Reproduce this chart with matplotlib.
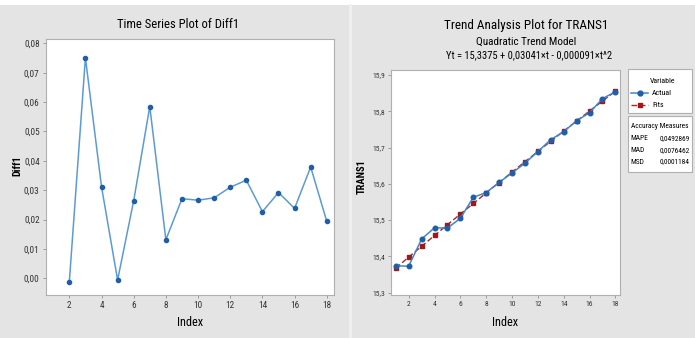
import matplotlib.pyplot as plt
from matplotlib import font_manager
from matplotlib.patches import Rectangle
from matplotlib.lines import Line2D

# data
diff_index = list(range(2, 19))
diff1 = [-0.0012, 0.0751, 0.0312, -0.0006, 0.0264, 0.0585, 0.0131, 0.0271, 0.0266,
         0.0274, 0.0310, 0.0334, 0.0227, 0.0292, 0.0238, 0.0379, 0.0194]

trend_index = list(range(1, 19))
actual = [15.374, 15.373, 15.448, 15.479, 15.478, 15.505, 15.563, 15.576, 15.604,
          15.630, 15.657, 15.689, 15.722, 15.744, 15.774, 15.796, 15.835, 15.854]
fits = [15.3678, 15.3980, 15.4279, 15.4577, 15.4873, 15.5167, 15.5459, 15.5750, 15.6038,
        15.6325, 15.6610, 15.6893, 15.7175, 15.7454, 15.7732, 15.8008, 15.8282, 15.8554]

measures = ['MAPE', 'MAD', 'MSD']
measure_vals = ['0,0492869', '0,0076462', '0,0001184']

# pick the narrowest family that is installed
installed = {f.name for f in font_manager.fontManager.ttflist}
font = 'DejaVu Sans'
for cand in ['Liberation Sans Narrow', 'Roboto Condensed', 'Open Sans Condensed', 'Liberation Sans']:
    if cand in installed:
        font = cand
        break
plt.rcParams['font.family'] = [font, 'DejaVu Sans']

W, H = 695, 338
fig = plt.figure(figsize=(W / 100, H / 100), dpi=100)
fig.patch.set_facecolor('#e4e4e4')
renderer = fig.canvas.get_renderer()

# reference text is squeezed horizontally; allow a bit wider to keep the height
grow = 1.18


def fit(t, width):
    # scale a text so it is about `width` pixels wide
    bb = t.get_window_extent(renderer)
    t.set_fontsize(t.get_fontsize() * width * grow / bb.width)
    return t


def fitted_size(s, width, g=grow, **kw):
    t = fig.text(0, 0, s, fontsize=10, **kw)
    w = t.get_window_extent(renderer).width
    t.remove()
    return 10 * width * g / w


def px(x, y):
    return x / W, 1 - y / H


# white strip on top and separator between the two panels
fig.patches.append(Rectangle((0, 1 - 5 / H), 1, 5 / H, transform=fig.transFigure,
                             facecolor='white', edgecolor='none'))
fig.lines.append(Line2D([350 / W, 350 / W], [0, 1 - 5 / H], transform=fig.transFigure,
                        color='#f0f0f0', lw=2))


def box(x0, y0, x1, y1):
    # pixel coords (top-left origin) -> figure fraction
    return [x0 / W, 1 - y1 / H, (x1 - x0) / W, (y1 - y0) / H]


def style(ax, size):
    for s in ax.spines.values():
        s.set_color('#b0b0b0')
        s.set_linewidth(0.8)
    ax.tick_params(labelsize=size, color='#909090', length=2.5, width=0.6,
                   colors='#333333', pad=2)


def comma(v, p):
    return ('%.' + str(p) + 'f') % v


# left: time series plot
ax1 = fig.add_axes(box(46, 39, 334, 295))
ax1.plot(diff_index, diff1, color='#5b9bd5', lw=1.1, marker='o', ms=3,
         mfc='#1f5fa8', mec='#1f5fa8')
ax1.set_xlim(0.55, 18.45)
ax1.set_ylim(-0.0057, 0.0815)
ax1.set_xticks(range(2, 19, 2))
yt = [i / 100 for i in range(0, 9)]
ax1.set_yticks(yt)
ax1.set_yticklabels([comma(v, 2).replace('.', ',') for v in yt])
style(ax1, fitted_size('0,08', 14, 1.1))
ax1.set_ylabel('Diff1', fontsize=7.5, fontweight='bold')
ax1.yaxis.set_label_coords(-(46 - 22) / 288, (295 - 165.5) / 256)
ax1.set_xlabel('Index', fontsize=fitted_size('Index', 20, 1.3), va='center')
ax1.xaxis.set_label_coords(0.5, -(323 - 295) / 256)
fit(fig.text(*px(178, 25), 'Time Series Plot of Diff1', ha='center', va='center',
             fontsize=9), 103)

# right: trend analysis plot
ax2 = fig.add_axes(box(391, 70, 620, 295))
ax2.plot(trend_index, fits, color='#a82828', lw=1, ls=(0, (4, 2)), marker='s', ms=3.5,
         mfc='#a01818', mec='#a01818', zorder=2)
ax2.plot(trend_index, actual, color='#3f87cf', lw=1.1, marker='o', ms=3.3,
         mfc='#1f5fa8', mec='#1f5fa8', zorder=3)
ax2.set_xlim(0.63, 18.36)
ax2.set_ylim(15.2936, 15.914)
ax2.set_xticks(range(2, 19, 2))
yt2 = [15.3, 15.4, 15.5, 15.6, 15.7, 15.8, 15.9]
ax2.set_yticks(yt2)
ax2.set_yticklabels([comma(v, 1).replace('.', ',') for v in yt2])
style(ax2, fitted_size('15,9', 11.5, 1.1))
ax2.set_ylabel('TRANS1', fontsize=7.5, fontweight='bold')
ax2.yaxis.set_label_coords(-(391 - 367) / 229, (295 - 177) / 225)
ax2.set_xlabel('Index', fontsize=fitted_size('Index', 20, 1.3), va='center')
ax2.xaxis.set_label_coords(0.5, -(323 - 295) / 225)
fit(fig.text(*px(526, 25), 'Trend Analysis Plot for TRANS1', ha='center', va='center',
             fontsize=9), 139)
fit(fig.text(*px(526, 42), 'Quadratic Trend Model', ha='center', va='center',
             fontsize=7), 86)
fit(fig.text(*px(529, 55), 'Yt = 15,3375 + 0,03041×t - 0,000091×t^2',
             ha='center', va='center', fontsize=7), 141)

# legend boxes
for b in [(628, 69, 692, 113), (628, 116, 692, 172)]:
    fig.patches.append(Rectangle((b[0] / W, 1 - b[3] / H), (b[2] - b[0]) / W, (b[3] - b[1]) / H,
                                 transform=fig.transFigure, facecolor='white',
                                 edgecolor='#b0b0b0', lw=0.8))
lsize = fitted_size('Variable', 23, 1.1)
fig.text(*px(663, 81), 'Variable', ha='center', va='center', fontsize=lsize)
fig.lines.append(Line2D([631 / W, 648 / W], [1 - 93 / H] * 2, transform=fig.transFigure,
                        color='#3f87cf', lw=1.1))
fig.lines.append(Line2D([639.5 / W], [1 - 93 / H], transform=fig.transFigure, marker='o',
                        ms=3.5, color='#1f5fa8'))
fig.text(*px(652, 93), 'Actual', ha='left', va='center', fontsize=lsize)
fig.lines.append(Line2D([631 / W, 648 / W], [1 - 105 / H] * 2, transform=fig.transFigure,
                        color='#a82828', lw=1, ls=(0, (4, 2))))
fig.lines.append(Line2D([639.5 / W], [1 - 105 / H], transform=fig.transFigure, marker='s',
                        ms=3.5, color='#a01818'))
fig.text(*px(652, 105), 'Fits', ha='left', va='center', fontsize=lsize)

asize = fitted_size('Accuracy Measures', 53, 1.08)
fig.text(*px(660, 127), 'Accuracy Measures', ha='center', va='center', fontsize=asize)
for i, (m, v) in enumerate(zip(measures, measure_vals)):
    yy = 139 + 11.5 * i
    fig.text(*px(630.5, yy), m, ha='left', va='center', fontsize=asize)
    fig.text(*px(689.5, yy), v, ha='right', va='center', fontsize=asize)

fig.savefig('out.png', dpi=100, facecolor=fig.get_facecolor())
